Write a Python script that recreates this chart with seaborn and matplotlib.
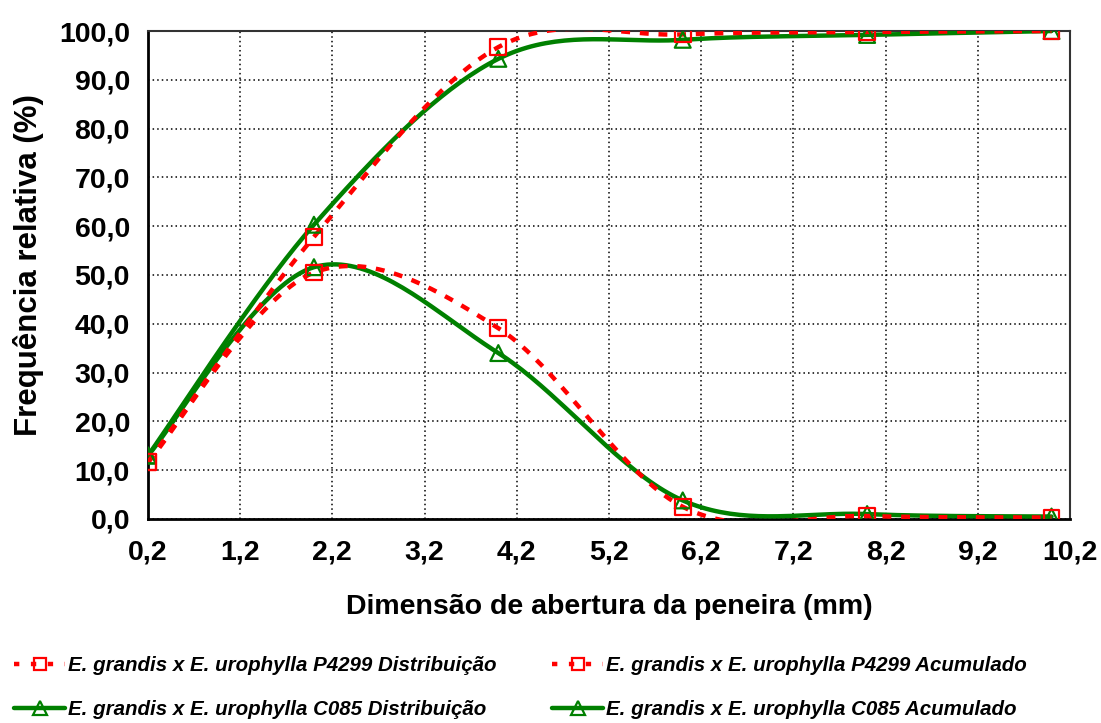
import numpy as np
import pandas as pd
import matplotlib
matplotlib.use("Agg")
import matplotlib.pyplot as plt
from matplotlib.ticker import FuncFormatter, FixedLocator
from matplotlib.lines import Line2D
import seaborn as sns

# Sieve openings (mm) and relative frequencies (%)
abertura = [0.2, 2.0, 4.0, 6.0, 8.0, 10.0]
p4299_dist = [11.6, 50.5, 39.1, 2.5, 0.6, 0.3]
p4299_acum = [11.6, 57.8, 96.7, 99.3, 99.8, 100.0]
c085_dist = [13.0, 51.6, 34.0, 3.8, 1.0, 0.5]
c085_acum = [13.0, 60.3, 94.3, 98.2, 99.2, 100.0]

x_ticks = [0.2, 1.2, 2.2, 3.2, 4.2, 5.2, 6.2, 7.2, 8.2, 9.2, 10.2]
y_ticks = [0, 10, 20, 30, 40, 50, 60, 70, 80, 90, 100]

nomes = [
    "E. grandis x E. urophylla P4299 Distribuição",
    "E. grandis x E. urophylla P4299 Acumulado",
    "E. grandis x E. urophylla C085 Distribuição",
    "E. grandis x E. urophylla C085 Acumulado",
]

VERMELHO = "#ff0000"
VERDE = "#008000"


def suavizar(x, y, n=40):
    """Bezier smoothing through every point (spreadsheet-style smoothed line)."""
    p = np.column_stack([x, y]).astype(float)
    ext = np.vstack([p[0], p, p[-1]])
    t = np.linspace(0, 1, n)[:, None]
    out = []
    for i in range(len(p) - 1):
        p0, p1 = ext[i + 1], ext[i + 2]
        c1 = p0 + (ext[i + 2] - ext[i]) / 6.0
        c2 = p1 - (ext[i + 3] - ext[i + 1]) / 6.0
        seg = ((1 - t) ** 3) * p0 + 3 * ((1 - t) ** 2) * t * c1 + 3 * (1 - t) * t ** 2 * c2 + t ** 3 * p1
        out.append(seg if i == 0 else seg[1:])
    s = np.vstack(out)
    return s[:, 0], s[:, 1]


sns.set_theme(style="white")
plt.rcParams["font.family"] = ["Liberation Sans", "DejaVu Sans"]
plt.rcParams["text.color"] = "black"
plt.rcParams["axes.labelcolor"] = "black"
plt.rcParams["xtick.color"] = "black"
plt.rcParams["ytick.color"] = "black"

fig = plt.figure(figsize=(11.01, 7.23), dpi=100)
ax = fig.add_axes([0.1344, 0.2822, 0.8374, 0.6749])

series = [
    (p4299_dist, VERMELHO, (0, (2.0, 2.2)), "s"),
    (p4299_acum, VERMELHO, (0, (2.0, 2.2)), "s"),
    (c085_dist, VERDE, "-", "^"),
    (c085_acum, VERDE, "-", "^"),
]

# green (solid) series first, red dashed on top where they overlap
for k in [2, 3, 0, 1]:
    vals, cor, estilo, marc = series[k]
    xs, ys = suavizar(abertura, vals)
    df = pd.DataFrame({"x": xs, "y": ys})
    sns.lineplot(data=df, x="x", y="y", ax=ax, color=cor, linewidth=3.2,
                 linestyle=estilo, sort=False, estimator=None, zorder=3)
    pts = pd.DataFrame({"x": abertura, "y": vals})
    sns.scatterplot(data=pts, x="x", y="y", ax=ax, marker=marc, s=130,
                    facecolors="none", edgecolor=cor, linewidth=1.6, zorder=4)

ax.set_xlim(x_ticks[0], x_ticks[-1])
ax.set_ylim(y_ticks[0], y_ticks[-1])
ax.xaxis.set_major_locator(FixedLocator(x_ticks))
ax.yaxis.set_major_locator(FixedLocator(y_ticks))
fmt = FuncFormatter(lambda v, _: f"{v:.1f}".replace(".", ","))
ax.xaxis.set_major_formatter(fmt)
ax.yaxis.set_major_formatter(fmt)

ax.grid(True, which="major", color="black", linestyle=(0, (1, 2)), linewidth=1.1)
ax.tick_params(axis="both", which="major", direction="out", length=8, width=1.5,
               color="black", labelsize=20.5, labelcolor="black")
ax.tick_params(axis="x", pad=7)
ax.tick_params(axis="y", pad=5)
for lab in ax.get_xticklabels() + ax.get_yticklabels():
    lab.set_fontweight("bold")

for side in ["left", "bottom"]:
    ax.spines[side].set_color("black")
    ax.spines[side].set_linewidth(2.0)
for side in ["top", "right"]:
    ax.spines[side].set_color("#333333")
    ax.spines[side].set_linewidth(1.5)

ax.set_xlabel("Dimensão de abertura da peneira (mm)", fontsize=20.5, fontweight="bold",
              labelpad=20, color="black")
ax.set_ylabel("Frequência relativa (%)", fontsize=22.5, fontweight="bold",
              color="black")
ax.yaxis.set_label_coords(-0.113, 0.52)

def alca(cor, estilo, marc, ms):
    return Line2D([], [], color=cor, linestyle=estilo, linewidth=3.2, marker=marc,
                  markersize=ms, markerfacecolor="none", markeredgecolor=cor,
                  markeredgewidth=1.6)

h_pd = alca(VERMELHO, (0, (1.2, 2.6)), "s", 9)
h_pa = alca(VERMELHO, (0, (1.2, 2.6)), "s", 9)
h_cd = alca(VERDE, "-", "^", 10)
h_ca = alca(VERDE, "-", "^", 10)

# column-major fill: first column holds the "Distribuição" entries
leg = fig.legend([h_pd, h_cd, h_pa, h_ca], [nomes[0], nomes[2], nomes[1], nomes[3]],
                 loc="lower left", bbox_to_anchor=(-0.004, -0.02),
                 ncol=2, frameon=False, handlelength=2.5, handletextpad=0.12,
                 columnspacing=2.7, labelspacing=1.2,
                 prop={"size": 14.8, "weight": "bold", "style": "italic"})

fig.savefig("out.png", dpi=100)
